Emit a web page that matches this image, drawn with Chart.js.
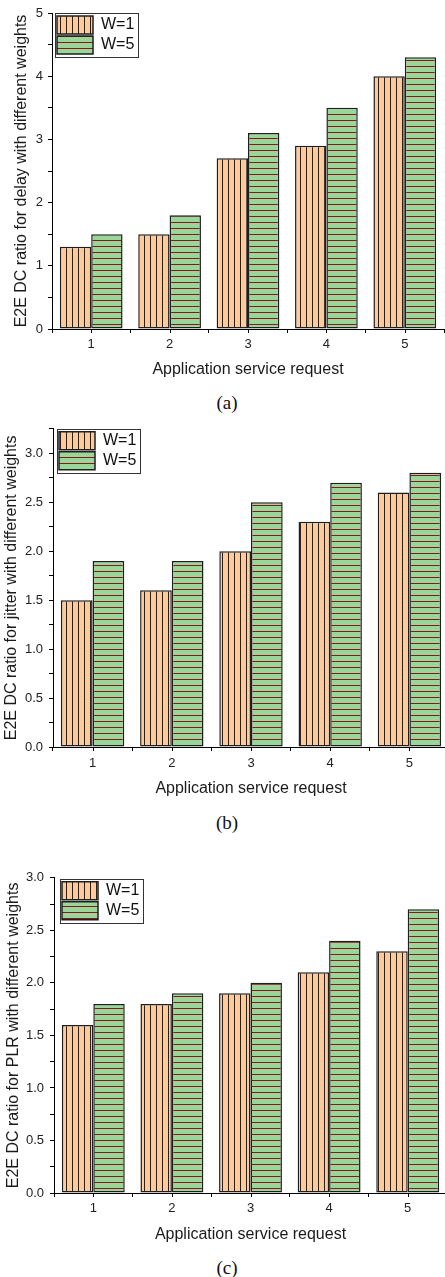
<!DOCTYPE html>
<html><head><meta charset="utf-8">
<script src="https://cdn.jsdelivr.net/npm/chart.js@4/dist/chart.umd.min.js"></script>
<style>
html,body{margin:0;padding:0;background:#fff;width:445px;height:1277px;overflow:hidden;position:relative;}
.wrap{position:absolute;left:0;width:450px;}
.cap{position:absolute;left:0;width:454px;text-align:center;font-family:'Liberation Serif','Times New Roman',serif;font-size:19px;line-height:20px;color:#111;}
</style></head><body>
<div class="wrap" style="top:0px"><canvas id="c0" width="450" height="379"></canvas></div>
<div class="wrap" style="top:415px"><canvas id="c1" width="450" height="383"></canvas></div>
<div class="wrap" style="top:864px"><canvas id="c2" width="450" height="380"></canvas></div>
<div class="cap" style="top:393px">(a)</div>
<div class="cap" style="top:813px">(b)</div>
<div class="cap" style="top:1258px">(c)</div>
<script>
// ---- data ----
const categories = ['1', '2', '3', '4', '5'];
const seriesNames = ['W=1', 'W=5'];
const delayW1 = [1.3, 1.5, 2.7, 2.9, 4.0];
const delayW5 = [1.5, 1.8, 3.1, 3.5, 4.3];
const jitterW1 = [1.5, 1.6, 2.0, 2.3, 2.6];
const jitterW5 = [1.9, 1.9, 2.5, 2.7, 2.8];
const plrW1 = [1.6, 1.8, 1.9, 2.1, 2.3];
const plrW5 = [1.8, 1.9, 2.0, 2.4, 2.7];
const xTitle = 'Application service request';
const yTitles = [
  'E2E DC ratio for delay with different weights',
  'E2E DC ratio for jitter with different weights',
  'E2E DC ratio for PLR with different weights'
];
const yMax = [5, 3.25, 3.0];
const yStep = [0.5, 0.25, 0.25];
const yLabelEvery = [1, 0.5, 0.5];
const yDecimals = [0, 1, 1];

// ---- layout / style ----
const FONT = "'Liberation Sans', Arial, sans-serif";
const layoutCfg = [
  {yw: 52, padR: 6, yTitlePad: 12, yTickPad: 5, xTickPad: 4, xh: 50, lgDx: 3, lgDy: 1},
  {yw: 53, padR: 1, yTitlePad: 2, yTickPad: 6, xTickPad: 4.5, xh: 51, lgDx: 4, lgDy: 1},
  {yw: 54, padR: 3, yTitlePad: 3.5, yTickPad: 6, xTickPad: 4, xh: 51, lgDx: 6, lgDy: 2}
];

function makePattern(bg, line, vertical) {
  const c = document.createElement('canvas');
  c.width = 6; c.height = 6;
  const g = c.getContext('2d');
  g.fillStyle = bg; g.fillRect(0, 0, 6, 6);
  g.fillStyle = line;
  if (vertical) g.fillRect(0, 0, 1, 6); else g.fillRect(0, 0, 6, 1);
  return g.createPattern(c, 'repeat');
}
const orangePat = makePattern('#FFCA98', '#2a211c', true);
const greenPat = makePattern('#9AD69A', '#861a1a', false);

const legendFrame = {
  id: 'legendFrame',
  afterLayout(chart, args, opts) {
    const lg = chart.legend, ca = chart.chartArea;
    const w = lg.width, h = lg.height;
    lg.left = ca.left + opts.dx; lg.top = ca.top + opts.dy;
    lg.right = lg.left + w; lg.bottom = lg.top + h;
  },
  afterDraw(chart) {
    const hb = chart.legend.legendHitBoxes;
    if (!hb || !hb.length) return;
    let x0 = Infinity, y0 = Infinity, x1 = -Infinity, y1 = -Infinity;
    hb.forEach(b => { x0 = Math.min(x0, b.left); y0 = Math.min(y0, b.top); x1 = Math.max(x1, b.left + b.width); y1 = Math.max(y1, b.top + b.height); });
    const ctx = chart.ctx;
    ctx.save();
    ctx.strokeStyle = '#333'; ctx.lineWidth = 1;
    ctx.strokeRect(Math.round(x0 - 2) + 0.5, Math.round(y0 - 3) + 0.5, Math.round(x1 - x0 + 6), Math.round(y1 - y0 + 6));
    ctx.restore();
  }
};
const centerTicks = {
  id: 'centerTicks',
  afterDraw(chart) {
    const xs = chart.scales.x, ctx = chart.ctx;
    const len = xs.options.grid.tickLength;
    ctx.save();
    ctx.strokeStyle = '#000'; ctx.lineWidth = 1;
    ctx.beginPath();
    xs.ticks.forEach((t, i) => {
      const px = Math.round(xs.getPixelForValue(i)) + 0.5;
      ctx.moveTo(px, xs.top); ctx.lineTo(px, xs.top + len);
    });
    ctx.stroke();
    ctx.restore();
  }
};

const seriesSets = [[delayW1, delayW5], [jitterW1, jitterW5], [plrW1, plrW5]];

seriesSets.forEach((sets, k) => {
  const L = layoutCfg[k];
  new Chart(document.getElementById('c' + k), {
    type: 'bar',
    data: {
      labels: categories,
      datasets: [
        {label: seriesNames[0], data: sets[0], backgroundColor: orangePat, borderColor: '#1e1e1e', borderWidth: 1.5, borderSkipped: false},
        {label: seriesNames[1], data: sets[1], backgroundColor: greenPat, borderColor: '#1e1e1e', borderWidth: 1.5, borderSkipped: false}
      ]
    },
    options: {
      responsive: false,
      animation: false,
      devicePixelRatio: 1,
      layout: {padding: {left: 0, top: 13, right: L.padR, bottom: 0}},
      datasets: {bar: {categoryPercentage: 0.8, barPercentage: 1.0}},
      plugins: {
        tooltip: {enabled: false},
        legend: {
          position: 'chartArea', align: 'start',
          labels: {boxWidth: 36, boxHeight: 18, padding: 2, color: '#111', font: {family: FONT, size: 16}}
        },
        legendFrame: {dx: L.lgDx, dy: L.lgDy}
      },
      scales: {
        x: {
          afterFit(s) { s.height = L.xh; },
          grid: {display: true, drawOnChartArea: false, drawTicks: true, tickLength: 4, color: '#000', offset: true},
          border: {display: true, color: '#000', width: 1},
          ticks: {color: '#222', padding: L.xTickPad, font: {family: FONT, size: 13, lineHeight: 1.2}, maxRotation: 0},
          title: {display: true, text: xTitle, color: '#1a1a1a', padding: {top: 0, bottom: 0}, font: {family: FONT, size: 16, lineHeight: 1.2}}
        },
        y: {
          min: 0, max: yMax[k],
          afterFit(s) { s.width = L.yw; },
          grid: {display: true, drawOnChartArea: false, drawTicks: true, tickLength: 4, color: '#000'},
          border: {display: true, color: '#000', width: 1},
          ticks: {
            stepSize: yStep[k], autoSkip: false, color: '#222', padding: L.yTickPad,
            font: {family: FONT, size: 13, lineHeight: 1.2},
            callback(v) {
              const r = v / yLabelEvery[k];
              return Math.abs(r - Math.round(r)) < 1e-6 ? Number(v).toFixed(yDecimals[k]) : '';
            }
          },
          title: {display: true, text: yTitles[k], color: '#1a1a1a', padding: {top: L.yTitlePad, bottom: 0}, font: {family: FONT, size: 16, lineHeight: 1.2}}
        }
      }
    },
    plugins: [legendFrame, centerTicks]
  });
});
</script>
</body></html>
